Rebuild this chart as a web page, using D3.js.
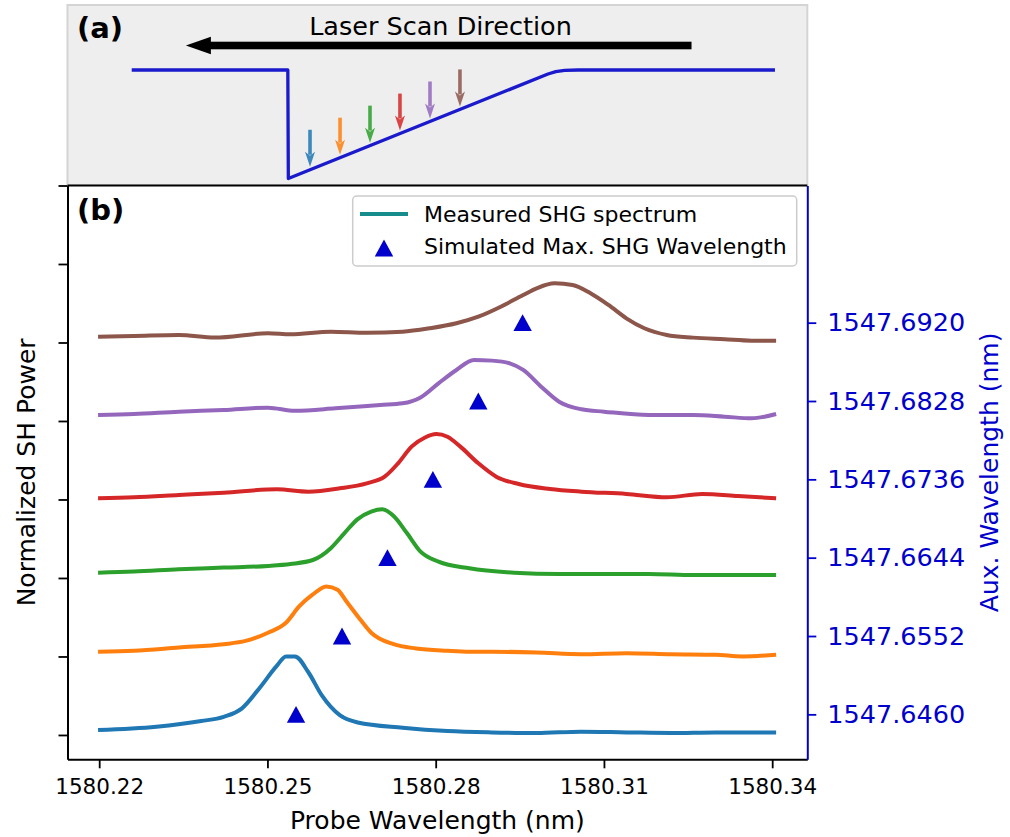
<!DOCTYPE html>
<html>
<head>
<meta charset="utf-8">
<script src="https://d3js.org/d3.v7.min.js"></script>
<style>
  body { margin: 0; background: #fff; }
  text { font-family: "DejaVu Sans", sans-serif; }
</style>
</head>
<body>
<script>
// measured SHG spectra: [probe wavelength (nm), normalized SH power + offset]
var blueSpectrum = [[1580.2198,0.062],[1580.2302,0.104],[1580.2382,0.177],[1580.2422,0.231],[1580.2454,0.336],
  [1580.2485,0.589],[1580.2517,0.883],[1580.2533,1.0],[1580.2549,1.0],[1580.2573,0.799],[1580.2597,0.504],
  [1580.2629,0.252],[1580.2661,0.159],[1580.2741,0.093],[1580.2821,0.051],[1580.2900,0.033],[1580.2980,0.025],
  [1580.3059,0.042],[1580.3140,0.033],[1580.3220,0.025],[1580.3299,0.033],[1580.3407,0.033]];
var orangeSpectrum = [[1580.2198,1.060],[1580.2262,1.072],[1580.2342,1.114],[1580.2422,1.156],[1580.2461,1.198],
  [1580.2501,1.303],[1580.2533,1.429],[1580.2557,1.640],[1580.2581,1.790],[1580.2605,1.892],[1580.2625,1.850],
  [1580.2641,1.700],[1580.2661,1.513],[1580.2685,1.303],[1580.2725,1.156],[1580.2765,1.102],[1580.2821,1.072],
  [1580.2860,1.060],[1580.2900,1.060],[1580.2980,1.051],[1580.3060,1.029],[1580.3140,1.042],[1580.3220,1.029],
  [1580.3299,1.022],[1580.3347,1.000],[1580.3407,1.022]];
var greenSpectrum = [[1580.2198,2.068],[1580.2262,2.081],[1580.2342,2.111],[1580.2422,2.132],[1580.2501,2.153],
  [1580.2541,2.178],[1580.2581,2.229],[1580.2613,2.380],[1580.2637,2.569],[1580.2661,2.750],[1580.2685,2.845],
  [1580.2705,2.875],[1580.2725,2.790],[1580.2749,2.569],[1580.2773,2.335],[1580.2805,2.208],[1580.2860,2.123],
  [1580.2940,2.068],[1580.3020,2.051],[1580.3100,2.051],[1580.3180,2.051],[1580.3259,2.038],[1580.3339,2.038],
  [1580.3407,2.038]];
var redSpectrum = [[1580.2198,3.015],[1580.2262,3.028],[1580.2342,3.057],[1580.2422,3.087],[1580.2517,3.130],
  [1580.2573,3.100],[1580.2629,3.142],[1580.2677,3.206],[1580.2709,3.291],[1580.2733,3.461],[1580.2757,3.673],
  [1580.2781,3.790],[1580.2801,3.834],[1580.2821,3.800],[1580.2844,3.673],[1580.2876,3.461],[1580.2908,3.291],
  [1580.2948,3.197],[1580.3004,3.134],[1580.3060,3.100],[1580.3140,3.070],[1580.3212,3.028],[1580.3275,3.070],
  [1580.3339,3.045],[1580.3407,3.015]];
var purpleSpectrum = [[1580.2198,4.076],[1580.2262,4.089],[1580.2342,4.119],[1580.2422,4.140],[1580.2501,4.170],
  [1580.2549,4.131],[1580.2621,4.161],[1580.2701,4.204],[1580.2741,4.225],[1580.2773,4.300],[1580.2805,4.480],
  [1580.2837,4.650],[1580.2868,4.777],[1580.2900,4.769],[1580.2932,4.735],[1580.2956,4.650],[1580.2988,4.437],
  [1580.3020,4.246],[1580.3060,4.149],[1580.3100,4.119],[1580.3180,4.076],[1580.3259,4.076],[1580.3315,4.055],
  [1580.3363,4.034],[1580.3407,4.089]];
var brownSpectrum = [[1580.2198,5.074],[1580.2262,5.083],[1580.2342,5.096],[1580.2406,5.062],[1580.2501,5.117],
  [1580.2541,5.104],[1580.2613,5.138],[1580.2677,5.125],[1580.2741,5.138],[1580.2789,5.181],[1580.2837,5.245],
  [1580.2876,5.329],[1580.2916,5.456],[1580.2956,5.605],[1580.2980,5.690],[1580.3012,5.754],[1580.3044,5.732],
  [1580.3076,5.627],[1580.3108,5.478],[1580.3140,5.308],[1580.3172,5.181],[1580.3212,5.096],[1580.3259,5.062],
  [1580.3315,5.041],[1580.3363,5.023],[1580.3407,5.023]];

var spectra = [blueSpectrum, orangeSpectrum, greenSpectrum, redSpectrum, purpleSpectrum, brownSpectrum];
var seriesColors = ["#1f77b4", "#ff7f0e", "#2ca02c", "#d62728", "#9467bd", "#8c564b"];

// simulated max. SHG wavelength (probe) vs aux wavelength
var simProbe = [1580.2551, 1580.2633, 1580.2714, 1580.2795, 1580.2876, 1580.2955];
var simAux = [1547.6460, 1547.6552, 1547.6644, 1547.6736, 1547.6828, 1547.6920];

var xTicks = [1580.22, 1580.25, 1580.28, 1580.31, 1580.34];
var yTicks = [0, 1, 2, 3, 4, 5, 6, 7];
var auxTicks = [1547.6460, 1547.6552, 1547.6644, 1547.6736, 1547.6828, 1547.6920];

// panel (a) schematic, relative units
var profileX = [0.0868, 0.2978, 0.2985, 0.6495, 0.660, 0.672, 0.690, 0.9563];
var profileY = [1, 1, 0, 0.963, 0.985, 0.996, 1, 1];
var arrowX = [0.3278, 0.3684, 0.4089, 0.4494, 0.4900, 0.5305];
var scanFrom = 0.8435, scanTo = 0.16;

var W = 1010, H = 837;
var axL = 67.5, axR = 807.3, axT = 185.5, axB = 759.3;
var blue = "#0000cd";

var svg = d3.select("body").append("svg")
  .attr("width", W).attr("height", H);

svg.append("rect").attr("width", W).attr("height", H).attr("fill", "#fff");

// ---------- panel (a) ----------
var sx = d3.scaleLinear().domain([0, 1]).range([axL, axR]);
var sy = d3.scaleLinear().domain([0, 1]).range([178.5, 70]);

svg.append("rect")
  .attr("x", axL).attr("y", 5)
  .attr("width", axR - axL).attr("height", axT - 5)
  .attr("fill", "#eeeeee")
  .attr("stroke", "#d4d4d4")
  .attr("stroke-width", 2);

var profile = d3.line()
  .x(function(d, i) { return sx(profileX[i]); })
  .y(function(d, i) { return sy(profileY[i]); });

svg.append("path")
  .attr("d", profile(profileX))
  .attr("fill", "none")
  .attr("stroke", "#1a1acc")
  .attr("stroke-width", 3.3)
  .attr("stroke-linejoin", "round");

function profileAt(u) {
  for (var i = 2; i < profileX.length - 1; i++) {
    if (u >= profileX[i] && u <= profileX[i + 1]) {
      var t = (u - profileX[i]) / (profileX[i + 1] - profileX[i]);
      return profileY[i] + t * (profileY[i + 1] - profileY[i]);
    }
  }
  return 1;
}

arrowX.forEach(function(u, i) {
  var ax = sx(u);
  var tip = sy(profileAt(u)) - 3;
  var g = svg.append("g").attr("opacity", 0.85);
  g.append("line")
    .attr("x1", ax).attr("x2", ax)
    .attr("y1", tip - 37).attr("y2", tip - 12)
    .attr("stroke", seriesColors[i])
    .attr("stroke-width", 3.6);
  g.append("path")
    .attr("d", "M" + (ax - 5) + "," + (tip - 15) + "L" + ax + "," + (tip - 11) +
               "L" + (ax + 5) + "," + (tip - 15) + "L" + ax + "," + tip + "Z")
    .attr("fill", seriesColors[i]);
});

// laser scan direction arrow
var ay = 45.5;
svg.append("rect")
  .attr("x", sx(scanTo) + 22).attr("y", ay - 3.8)
  .attr("width", sx(scanFrom) - sx(scanTo) - 22).attr("height", 7.6)
  .attr("fill", "#000");
svg.append("path")
  .attr("d", "M" + sx(scanTo) + "," + ay + "L" + (sx(scanTo) + 25) + "," + (ay - 8.8) +
             "L" + (sx(scanTo) + 25) + "," + (ay + 8.8) + "Z")
  .attr("fill", "#000");

svg.append("text")
  .attr("x", 440.5).attr("y", 35)
  .attr("text-anchor", "middle")
  .style("font-size", "25.5px")
  .text("Laser Scan Direction");

svg.append("text")
  .attr("x", 77).attr("y", 38)
  .style("font-size", "29px").style("font-weight", "bold")
  .text("(a)");

// ---------- panel (b) ----------
var x = d3.scaleLinear().domain([1580.21435, 1580.34626]).range([axL, axR]);
var y = d3.scaleLinear().domain([-0.31, 7]).range([axB, axT]);
var aux = d3.scaleLinear().domain([1547.64072, 1547.70811]).range([axB, axT]);

svg.append("rect")
  .attr("x", axL).attr("y", axT)
  .attr("width", axR - axL).attr("height", axB - axT)
  .attr("fill", "#fff");

var line = d3.line()
  .x(function(d) { return x(d[0]); })
  .y(function(d) { return y(d[1]); })
  .curve(d3.curveMonotoneX);

svg.selectAll("path.spectrum")
  .data(spectra)
  .enter().append("path")
  .attr("class", "spectrum")
  .attr("d", line)
  .attr("fill", "none")
  .attr("stroke", function(d, i) { return seriesColors[i]; })
  .attr("stroke-width", 4)
  .attr("stroke-linejoin", "round")
  .attr("stroke-linecap", "butt");

function triangle(cx, cy) {
  return "M" + cx + "," + (cy - 8.4) + "L" + (cx + 9.2) + "," + (cy + 8.4) +
         "L" + (cx - 9.2) + "," + (cy + 8.4) + "Z";
}

svg.selectAll("path.sim")
  .data(simProbe)
  .enter().append("path")
  .attr("class", "sim")
  .attr("d", function(d, i) { return triangle(x(d), aux(simAux[i])); })
  .attr("fill", blue);

// axes
var xAxis = svg.append("g")
  .attr("transform", "translate(0," + axB + ")")
  .call(d3.axisBottom(x).tickValues(xTicks).tickFormat(d3.format(".2f"))
    .tickSizeInner(9).tickSizeOuter(0).tickPadding(10));
xAxis.selectAll("text").style("font-size", "21.5px").attr("fill", "#000");

var yAxis = svg.append("g")
  .attr("transform", "translate(" + axL + ",0)")
  .call(d3.axisLeft(y).tickValues(yTicks).tickFormat("").tickSizeInner(9).tickSizeOuter(0));

var auxAxis = svg.append("g")
  .attr("transform", "translate(" + axR + ",0)")
  .call(d3.axisRight(aux).tickValues(auxTicks).tickFormat(d3.format(".4f"))
    .tickSizeInner(9).tickSizeOuter(0).tickPadding(11));
auxAxis.selectAll("text").style("font-size", "25.5px").attr("fill", blue);
auxAxis.selectAll("line").attr("stroke", blue);
auxAxis.select(".domain").attr("stroke", blue);

svg.selectAll(".tick line").attr("stroke-width", 1.8);
svg.selectAll(".domain").attr("stroke-width", 2);

// top spine
svg.append("line")
  .attr("x1", axL).attr("x2", axR)
  .attr("y1", axT).attr("y2", axT)
  .attr("stroke", "#000").attr("stroke-width", 2);

// labels
svg.append("text")
  .attr("x", (axL + axR) / 2).attr("y", 829)
  .attr("text-anchor", "middle")
  .style("font-size", "25px")
  .text("Probe Wavelength (nm)");

svg.append("text")
  .attr("transform", "translate(35," + (axT + axB) / 2 + ") rotate(-90)")
  .attr("text-anchor", "middle")
  .style("font-size", "25px")
  .text("Normalized SH Power");

svg.append("text")
  .attr("transform", "translate(998," + (axT + axB) / 2 + ") rotate(-90)")
  .attr("text-anchor", "middle")
  .style("font-size", "25px")
  .attr("fill", blue)
  .text("Aux. Wavelength (nm)");

svg.append("text")
  .attr("x", 77).attr("y", 220)
  .style("font-size", "29px").style("font-weight", "bold")
  .text("(b)");

// legend
var legend = svg.append("g");
legend.append("rect")
  .attr("x", 352.7).attr("y", 196)
  .attr("width", 444).attr("height", 70)
  .attr("rx", 4)
  .attr("fill", "#fff").attr("fill-opacity", 0.8)
  .attr("stroke", "#cccccc").attr("stroke-width", 1.5);
legend.append("line")
  .attr("x1", 360).attr("x2", 408)
  .attr("y1", 214).attr("y2", 214)
  .attr("stroke", "#168c8c").attr("stroke-width", 4);
legend.append("path")
  .attr("d", triangle(384, 248))
  .attr("fill", blue);
legend.append("text")
  .attr("x", 424).attr("y", 221.5)
  .style("font-size", "22px")
  .text("Measured SHG spectrum");
legend.append("text")
  .attr("x", 424).attr("y", 254)
  .style("font-size", "22px")
  .text("Simulated Max. SHG Wavelength");
</script>
</body>
</html>
